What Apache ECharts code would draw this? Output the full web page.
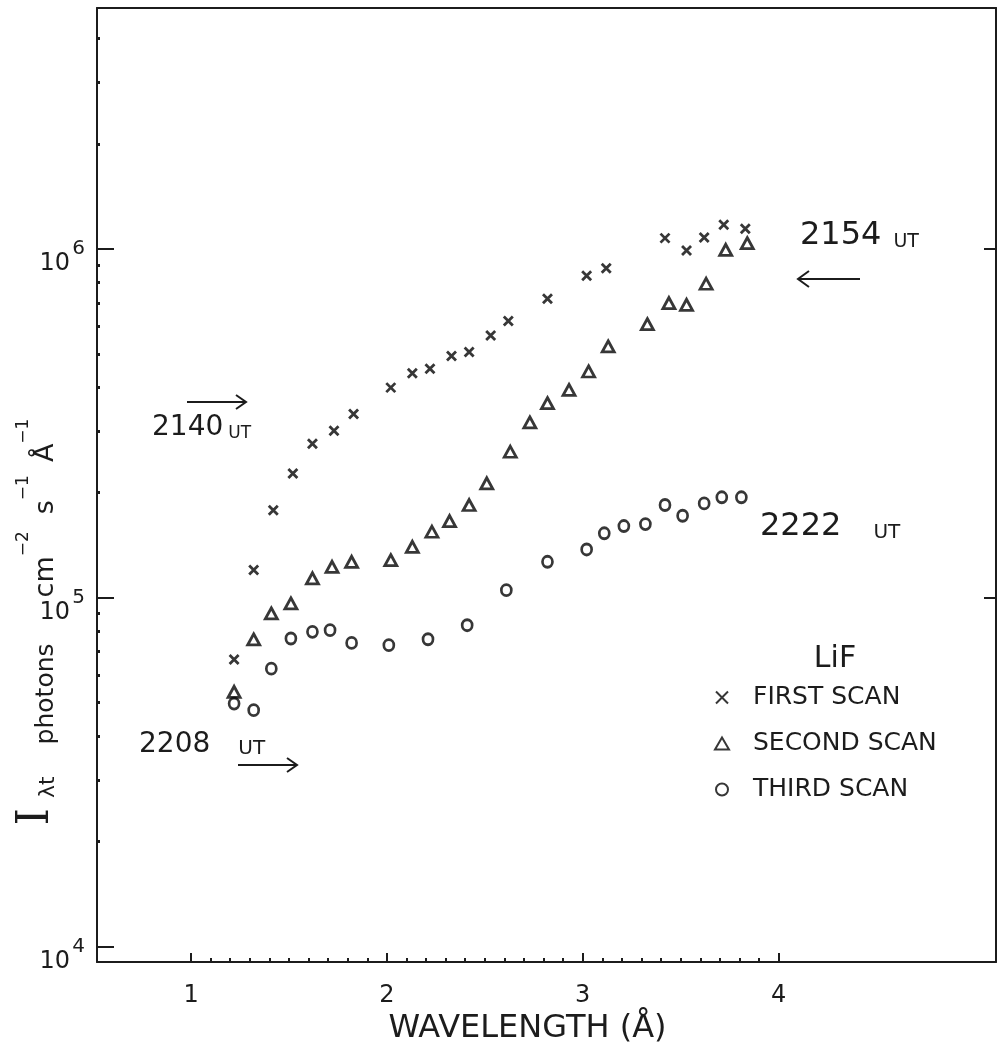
<!DOCTYPE html>
<html>
<head>
<meta charset="utf-8">
<script src="https://cdn.jsdelivr.net/npm/echarts@6/dist/echarts.min.js"></script>
<style>
html,body{margin:0;padding:0;background:#ffffff;}
#chart{width:997px;height:1043px;}
</style>
</head>
<body>
<div id="chart"></div>
<script>
// ---- Data ----
const firstScanWavelength = [1.22,1.32,1.42,1.52,1.62,1.73,1.83,2.02,2.13,2.22,2.33,2.42,2.53,2.62,2.82,3.02,3.12,3.42,3.53,3.62,3.72,3.83];
const firstScanIntensity  = [66500,120000,178000,227000,276000,301000,336000,400000,440000,453000,493000,506000,564000,621000,719000,837000,880000,1073000,989000,1078000,1172000,1141000];

const secondScanWavelength = [1.22,1.32,1.41,1.51,1.62,1.72,1.82,2.02,2.13,2.23,2.32,2.42,2.51,2.63,2.73,2.82,2.93,3.03,3.13,3.33,3.44,3.53,3.63,3.73,3.84];
const secondScanIntensity  = [53700,75900,90100,96300,113600,122600,126700,128100,139900,154500,165800,184300,212700,262000,318000,361000,394000,445000,525000,608000,699000,691000,794000,993000,1038000];

const thirdScanWavelength = [1.22,1.32,1.41,1.51,1.62,1.71,1.82,2.01,2.21,2.41,2.61,2.82,3.02,3.11,3.21,3.32,3.42,3.51,3.62,3.71,3.81];
const thirdScanIntensity  = [49700,47600,62600,76400,79800,80700,74200,73100,76000,83400,105100,126700,137500,152900,160400,162500,184300,171700,186300,193900,193900];

const seriesNames = ['FIRST SCAN','SECOND SCAN','THIRD SCAN'];
const legendTitle = 'LiF';

const xMajorTicks = [1,2,3,4];
const xMinorTicks = [1.1,1.2,1.3,1.4,1.5,1.6,1.7,1.8,1.9,2.1,2.2,2.3,2.4,2.5,2.6,2.7,2.8,2.9,3.1,3.2,3.3,3.4,3.5,3.6,3.7,3.8,3.9];
const yMajorTicks = [1e4,1e5,1e6];
const yMinorTicks = [2e4,3e4,4e4,5e4,6e4,7e4,8e4,9e4,2e5,3e5,4e5,5e5,6e5,7e5,8e5,9e5,2e6,3e6,4e6];
const yRightTicks = [1e5,1e6];
const xRange = [0.52, 5.11];
const yRange = [9030, 4.9e6];

const annotations = [
  {num:'2140', unit:'UT'},
  {num:'2154', unit:'UT'},
  {num:'2222', unit:'UT'},
  {num:'2208', unit:'UT'}
];

// ---- Styling ----
const INK = '#1c1c1c';
const MARK = '#050505';
const FONT = '"DejaVu Sans", "Liberation Sans", sans-serif';

const chart = echarts.init(document.getElementById('chart'), null, {renderer:'canvas'});

function pairs(xs, ys){ return xs.map((x,i)=>[x, ys[i]]); }
const log10 = v => Math.log10(v);

const markerStyle = {color:'transparent', borderColor:MARK, borderWidth:2.8};

function annot(x, y, item, numSize, unitSize, gap){
  return { type:'text', x:x, y:y, style:{
    text:'{a|'+item.num+'}{b|'+item.unit+'}', verticalAlign:'middle', fill:INK,
    rich:{
      a:{fontSize:numSize, lineHeight:numSize, fontFamily:FONT, fill:INK, verticalAlign:'bottom', padding:[0,gap,0,0]},
      b:{fontSize:unitSize, lineHeight:unitSize, fontFamily:FONT, fill:INK, verticalAlign:'bottom'}
    }}};
}

const option = {
  animation:false,
  backgroundColor:'#ffffff',
  grid:{left:97, right:1, top:8, bottom:81, containLabel:false, outerBoundsMode:'none'},
  xAxis:[
    { // main wavelength axis
      type:'value', min:xRange[0], max:xRange[1], position:'bottom',
      axisLine:{show:true, onZero:false, lineStyle:{color:INK, width:2}},
      axisTick:{show:true, inside:true, length:9, customValues:xMajorTicks, lineStyle:{color:INK, width:2}},
      axisLabel:{show:true, customValues:xMajorTicks, margin:22, fontSize:24, color:INK, fontFamily:FONT},
      splitLine:{show:false},
      name:'WAVELENGTH (Å)', nameLocation:'middle', nameGap:44,
      nameTextStyle:{fontSize:32, color:INK, fontFamily:FONT, padding:[0,38,0,0]}
    },
    { // minor ticks
      type:'value', min:xRange[0], max:xRange[1], position:'bottom',
      axisLine:{show:false, onZero:false},
      axisTick:{show:true, inside:true, length:4, customValues:xMinorTicks, lineStyle:{color:INK, width:2}},
      axisLabel:{show:false}, splitLine:{show:false}
    },
    { // top frame
      type:'value', min:xRange[0], max:xRange[1], position:'top',
      axisLine:{show:true, onZero:false, lineStyle:{color:INK, width:2}},
      axisTick:{show:false}, axisLabel:{show:false}, splitLine:{show:false}
    }
  ],
  yAxis:[
    { // main log intensity axis: ticks and the "10" of each decade label
      type:'log', logBase:10, min:yRange[0], max:yRange[1], position:'left',
      axisLine:{show:true, onZero:false, lineStyle:{color:INK, width:2}},
      axisTick:{show:true, inside:true, length:17, lineStyle:{color:INK, width:2}},
      axisLabel:{
        show:true, showMinLabel:false, showMaxLabel:false, margin:27,
        verticalAlign:'top', lineHeight:30, fontSize:24, color:INK, fontFamily:FONT,
        formatter:function(v){
          const e = Math.log10(v);
          if (Math.abs(e - Math.round(e)) > 1e-6) return '';
          return '10';
        }
      },
      splitLine:{show:false}
    },
    { // minor ticks (in log10 units)
      type:'value', min:log10(yRange[0]), max:log10(yRange[1]), position:'left',
      axisLine:{show:false, onZero:false},
      axisTick:{show:true, inside:true, length:3, customValues:yMinorTicks.map(log10), lineStyle:{color:INK, width:3}},
      axisLabel:{show:false}, splitLine:{show:false}
    },
    { // right frame with decade ticks
      type:'value', min:log10(yRange[0]), max:log10(yRange[1]), position:'right',
      axisLine:{show:true, onZero:false, lineStyle:{color:INK, width:2}},
      axisTick:{show:true, inside:true, length:12, customValues:yRightTicks.map(log10), lineStyle:{color:INK, width:2}},
      axisLabel:{show:false}, splitLine:{show:false}
    },
    { // exponents of the decade labels (superscripts)
      type:'value', min:log10(yRange[0]), max:log10(yRange[1]), position:'left',
      axisLine:{show:false, onZero:false}, axisTick:{show:false},
      axisLabel:{show:true, customValues:yMajorTicks.map(log10), margin:12,
        verticalAlign:'middle',
        fontSize:20, color:INK, fontFamily:FONT,
        formatter:function(v){ return String(Math.round(v)); }},
      splitLine:{show:false}
    }
  ],
  legend:{
    orient:'vertical', left:709, top:680, itemWidth:14, itemHeight:12, itemGap:21,
    selectedMode:false,
    data:seriesNames,
    textStyle:{fontSize:25, color:INK, fontFamily:FONT, padding:[0,0,0,19]}
  },
  series:[
    {
      name:seriesNames[0], type:'scatter', xAxisIndex:0, yAxisIndex:0,
      symbol:'path://M0,0L10,10M10,0L0,10', symbolSize:9,
      itemStyle:markerStyle, emphasis:{disabled:true},
      data:pairs(firstScanWavelength, firstScanIntensity)
    },
    {
      name:seriesNames[1], type:'scatter', xAxisIndex:0, yAxisIndex:0,
      symbol:'triangle', symbolSize:[12,11],
      itemStyle:markerStyle, emphasis:{disabled:true},
      data:pairs(secondScanWavelength, secondScanIntensity)
    },
    {
      name:seriesNames[2], type:'scatter', xAxisIndex:0, yAxisIndex:0,
      symbol:'circle', symbolSize:[10,11],
      itemStyle:markerStyle, emphasis:{disabled:true},
      data:pairs(thirdScanWavelength, thirdScanIntensity)
    }
  ],
  graphic:[
    { // y-axis title
      type:'text', x:37, y:622, rotation:Math.PI/2,
      style:{
        text:'{I|I}{sub|λt}{p|photons}{u|cm}{supA|−2}{u|s}{supB|−1}{u|Å}{sup|−1}',
        align:'center', verticalAlign:'middle', fill:INK,
        rich:{
          I:{fontSize:44, lineHeight:44, fontFamily:'"DejaVu Serif", serif', fill:INK, verticalAlign:'bottom', padding:[0,10,0,0]},
          sub:{fontSize:22, lineHeight:22, fontFamily:FONT, fill:INK, verticalAlign:'bottom', padding:[0,32,0,0]},
          p:{fontSize:25, lineHeight:25, fontFamily:FONT, fill:INK, verticalAlign:'bottom', padding:[0,46,0,0]},
          u:{fontSize:27, lineHeight:27, fontFamily:FONT, fill:INK, verticalAlign:'bottom'},
          supA:{fontSize:17, lineHeight:17, fontFamily:FONT, fill:INK, verticalAlign:'top', padding:[0,17,0,0]},
          supB:{fontSize:17, lineHeight:17, fontFamily:FONT, fill:INK, verticalAlign:'top', padding:[0,13,0,0]},
          sup:{fontSize:17, lineHeight:17, fontFamily:FONT, fill:INK, verticalAlign:'top'}
        }
      }
    },
    { type:'text', x:835, y:659, style:{text:legendTitle, fontSize:30, fontFamily:FONT, fill:INK, align:'center', verticalAlign:'middle'} },
    // time annotations
    annot(152, 428, annotations[0], 28, 17, 5),
    annot(800, 236, annotations[1], 32, 19, 12),
    annot(760, 527, annotations[2], 32, 20, 32),
    annot(139, 745, annotations[3], 28, 20, 28),
    // arrows
    { type:'polyline', shape:{points:[[187,402],[246,402]]}, style:{stroke:INK, lineWidth:2, fill:null} },
    { type:'polyline', shape:{points:[[236,395],[246,402],[236,409]]}, style:{stroke:INK, lineWidth:2, fill:null} },
    { type:'polyline', shape:{points:[[860,279],[798,279]]}, style:{stroke:INK, lineWidth:2, fill:null} },
    { type:'polyline', shape:{points:[[809,271],[798,279],[809,287]]}, style:{stroke:INK, lineWidth:2, fill:null} },
    { type:'polyline', shape:{points:[[238,765],[297,765]]}, style:{stroke:INK, lineWidth:2, fill:null} },
    { type:'polyline', shape:{points:[[287,758],[297,765],[287,772]]}, style:{stroke:INK, lineWidth:2, fill:null} }
  ]
};

chart.setOption(option);
</script>
</body>
</html>
